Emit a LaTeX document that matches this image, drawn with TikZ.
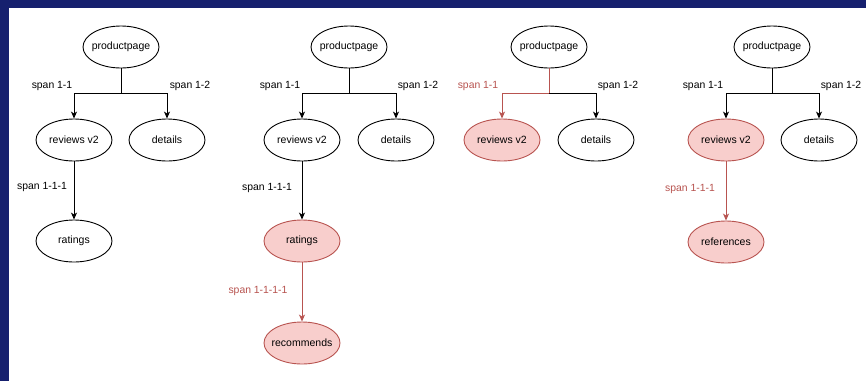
\documentclass[tikz,border=0pt]{standalone}
\usepackage{fontspec}
\setmainfont{Liberation Sans}
\usetikzlibrary{shapes.geometric,arrows.meta}
\definecolor{navy}{HTML}{16206E}
\definecolor{redfill}{HTML}{F8CECC}
\definecolor{redline}{HTML}{B85450}
\newcommand{\svctext}[1]{\makebox[0pt]{#1}}
\tikzset{
  svc/.style={ellipse,draw=black,line width=0.9pt,minimum width=76pt,minimum height=42pt,inner sep=0pt,font=\fontsize{10.5}{12}\selectfont},
  hot/.style={svc,draw=redline,fill=redfill},
  lbl/.style={font=\fontsize{10.4}{12}\selectfont,inner sep=0pt},
  rlbl/.style={lbl,text=redline},
  edge/.style={line width=0.9pt,-{Stealth[length=7pt,width=6pt,inset=2pt]}},
  plain/.style={line width=0.9pt},
  redge/.style={edge,draw=redline},
  rplain/.style={plain,draw=redline}
}
\begin{document}
\begin{tikzpicture}[x=1pt,y=-1pt]
\fill[navy] (0,0) rectangle (866,381);
\fill[white] (9,8) rectangle (866,381);
\useasboundingbox (0,0) rectangle (866,381);

% ---------- diagram 1 ----------
\node[svc] (pp1) at (121,47) {\svctext{productpage}};
\node[svc] (rv1) at (74,140) {\svctext{reviews v2}};
\node[svc] (dt1) at (167,140) {\svctext{details}};
\node[svc] (ra1) at (74,241) {\svctext{ratings}};
\coordinate (j1) at (121,93);
\draw[plain] (pp1.south) -- (j1);
\draw[edge] (j1) -| (rv1);
\draw[edge] (j1) -| (dt1);
\draw[edge] (rv1) -- (ra1);
\node[lbl] (l11) at (52,86) {span 1-1};
\node[lbl] (l12) at (190,86) {span 1-2};
\node[lbl] (l111) at (42,187) {span 1-1-1};

% ---------- diagram 2 ----------
\node[svc] (pp2) at (349,47) {\svctext{productpage}};
\node[svc] (rv2) at (302,140) {\svctext{reviews v2}};
\node[svc] (dt2) at (396,140) {\svctext{details}};
\node[hot] (ra2) at (302,241) {\svctext{ratings}};
\node[hot] (rc2) at (302,343) {\svctext{recommends}};
\coordinate (j2) at (349,93);
\draw[plain] (pp2.south) -- (j2);
\draw[edge] (j2) -| (rv2);
\draw[edge] (j2) -| (dt2);
\draw[edge] (rv2) -- (ra2);
\draw[redge] (ra2) -- (rc2);
\node[lbl] (l21) at (280,86) {span 1-1};
\node[lbl] (l22) at (418,86) {span 1-2};
\node[lbl] (l211) at (267,188) {span 1-1-1};
\node[rlbl] (l2111) at (258,291) {span 1-1-1-1};

% ---------- diagram 3 ----------
\node[svc] (pp3) at (549,47) {\svctext{productpage}};
\node[hot] (rv3) at (502,140) {\svctext{reviews v2}};
\node[svc] (dt3) at (596,140) {\svctext{details}};
\coordinate (j3) at (549,93);
\draw[edge] (j3) -| (dt3);
\draw[rplain] (pp3.south) -- (j3);
\draw[redge] (j3) -| (rv3);
\node[rlbl] (l31) at (478,86) {span 1-1};
\node[lbl] (l32) at (618,86) {span 1-2};

% ---------- diagram 4 ----------
\node[svc] (pp4) at (772,47) {\svctext{productpage}};
\node[hot] (rv4) at (726,140) {\svctext{reviews v2}};
\node[svc] (dt4) at (819,140) {\svctext{details}};
\node[hot] (rf4) at (726,242) {\svctext{references}};
\coordinate (j4) at (772,93);
\draw[plain] (pp4.south) -- (j4);
\draw[edge] (j4) -| (rv4);
\draw[edge] (j4) -| (dt4);
\draw[redge] (rv4) -- (rf4);
\node[lbl] (l41) at (703,86) {span 1-1};
\node[lbl] (l42) at (841,86) {span 1-2};
\node[rlbl] (l411) at (690,189) {span 1-1-1};
\end{tikzpicture}
\end{document}
